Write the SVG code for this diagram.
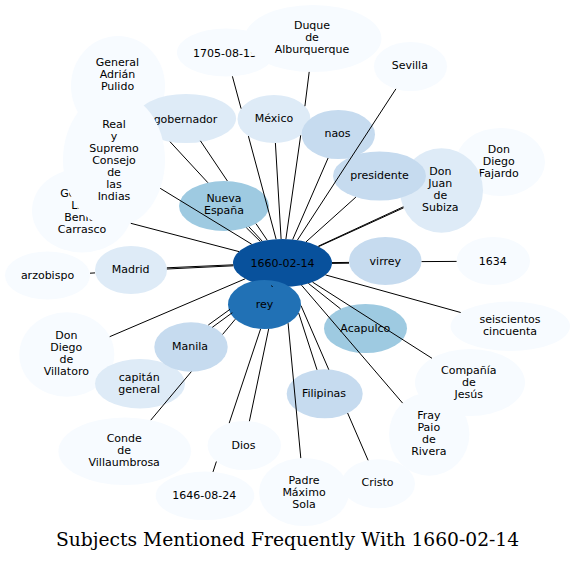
<svg xmlns="http://www.w3.org/2000/svg" width="575" height="562" viewBox="0 0 575 562">
<style>
  .c1{fill:#f7fbff}
  .c2{fill:#deebf7}
  .c3{fill:#c6dbef}
  .c4{fill:#9ecae1}
  .c7{fill:#2171b5}
  .c8{fill:#08519c}
  .node text{font-family:"DejaVu Sans","Noto Sans",sans-serif;font-size:11px;text-anchor:middle;fill:#000}
  #connectors path{stroke:#000;stroke-width:1;fill:none}
  .title{font-family:"DejaVu Serif","Liberation Serif",serif;font-size:18.7px;text-anchor:middle;fill:#000}
</style>
<rect width="575" height="562" fill="#fff"/>
<g id="nodes">
  <g id="n-pulido" class="node"><ellipse class="c1" cx="118" cy="86" rx="47" ry="50"/><text x="117.5" y="66"><tspan x="117.5">General</tspan><tspan x="117.5" dy="12">Adrián</tspan><tspan x="117.5" dy="12">Pulido</tspan></text></g>
  <g id="n-carrasco" class="node"><ellipse class="c1" cx="82" cy="210.5" rx="50" ry="42"/><text x="82" y="196.5"><tspan x="82">General</tspan><tspan x="82" dy="12">Luis</tspan><tspan x="82" dy="12">Benito</tspan><tspan x="82" dy="12">Carrasco</tspan></text></g>
  <g id="n-gobernador" class="node"><ellipse class="c2" cx="186" cy="118.5" rx="50" ry="24.5"/><text x="185.5" y="122.5">gobernador</text></g>
  <g id="n-consejo" class="node"><ellipse class="c1" cx="114" cy="160" rx="51" ry="67"/><text x="114" y="128"><tspan x="114">Real</tspan><tspan x="114" dy="12">y</tspan><tspan x="114" dy="12">Supremo</tspan><tspan x="114" dy="12">Consejo</tspan><tspan x="114" dy="12">de</tspan><tspan x="114" dy="12">las</tspan><tspan x="114" dy="12">Indias</tspan></text></g>
  <g id="n-arzobispo" class="node"><ellipse class="c1" cx="47.5" cy="275.5" rx="42.5" ry="24"/><text x="47.5" y="278.5">arzobispo</text></g>
  <g id="n-madrid" class="node"><ellipse class="c2" cx="131" cy="270" rx="36" ry="24"/><text x="130.7" y="272.7">Madrid</text></g>
  <g id="n-nueva-espana" class="node"><ellipse class="c4" cx="224" cy="206" rx="45" ry="25"/><text x="224" y="202.3"><tspan x="224">Nueva</tspan><tspan x="224" dy="12">España</tspan></text></g>
  <g id="n-1705" class="node"><ellipse class="c1" cx="226" cy="52.5" rx="49" ry="24"/><text x="225" y="56.5">1705-08-15</text></g>
  <g id="n-duque" class="node"><ellipse class="c1" cx="313" cy="38.5" rx="68.5" ry="33.5"/><text x="312" y="29"><tspan x="312">Duque</tspan><tspan x="312" dy="12">de</tspan><tspan x="312" dy="12">Alburquerque</tspan></text></g>
  <g id="n-sevilla" class="node"><ellipse class="c1" cx="410.5" cy="66.5" rx="36.5" ry="24.5"/><text x="409.8" y="69">Sevilla</text></g>
  <g id="n-mexico" class="node"><ellipse class="c2" cx="274" cy="119" rx="36.5" ry="24"/><text x="274" y="122.3">México</text></g>
  <g id="n-naos" class="node"><ellipse class="c3" cx="338.3" cy="134.5" rx="36.7" ry="24.5"/><text x="337.5" y="137.3">naos</text></g>
  <g id="n-fajardo" class="node"><ellipse class="c1" cx="500.5" cy="162" rx="44.5" ry="34"/><text x="498.8" y="152.5"><tspan x="498.8">Don</tspan><tspan x="498.8" dy="12">Diego</tspan><tspan x="498.8" dy="12">Fajardo</tspan></text></g>
  <g id="n-subiza" class="node"><ellipse class="c2" cx="441.5" cy="190.5" rx="41.5" ry="42.3"/><text x="440.3" y="175"><tspan x="440.3">Don</tspan><tspan x="440.3" dy="12">Juan</tspan><tspan x="440.3" dy="12">de</tspan><tspan x="440.3" dy="12">Subiza</tspan></text></g>
  <g id="n-presidente" class="node"><ellipse class="c3" cx="379.5" cy="176" rx="46.5" ry="24.5"/><text x="379.5" y="178.5">presidente</text></g>
  <g id="n-virrey" class="node"><ellipse class="c3" cx="385.3" cy="261" rx="36.3" ry="24"/><text x="385.3" y="265">virrey</text></g>
  <g id="n-1634" class="node"><ellipse class="c1" cx="493.3" cy="261" rx="36.7" ry="24"/><text x="492.7" y="265">1634</text></g>
  <g id="n-1660-02-14" class="node"><ellipse class="c8" cx="282.5" cy="263" rx="49.5" ry="24"/><text x="282.5" y="266.7">1660-02-14</text></g>
  <g id="n-rey" class="node"><ellipse class="c7" cx="264.5" cy="304.5" rx="36.5" ry="24.5"/><text x="264.5" y="307.5">rey</text></g>
  <g id="n-acapulco" class="node"><ellipse class="c4" cx="365.5" cy="328.5" rx="41.5" ry="24.5"/><text x="365.3" y="331.5">Acapulco</text></g>
  <g id="n-seiscientos" class="node"><ellipse class="c1" cx="510.3" cy="326.3" rx="59.7" ry="24.7"/><text x="510" y="323.3"><tspan x="510">seiscientos</tspan><tspan x="510" dy="12">cincuenta</tspan></text></g>
  <g id="n-compania" class="node"><ellipse class="c1" cx="470" cy="382.5" rx="55" ry="33.5"/><text x="468.8" y="373.5"><tspan x="468.8">Compañía</tspan><tspan x="468.8" dy="12">de</tspan><tspan x="468.8" dy="12">Jesús</tspan></text></g>
  <g id="n-fray" class="node"><ellipse class="c1" cx="429.2" cy="434.2" rx="40.2" ry="41.5"/><text x="428.8" y="418.5"><tspan x="428.8">Fray</tspan><tspan x="428.8" dy="12">Paio</tspan><tspan x="428.8" dy="12">de</tspan><tspan x="428.8" dy="12">Rivera</tspan></text></g>
  <g id="n-filipinas" class="node"><ellipse class="c3" cx="324.7" cy="393.8" rx="38" ry="24.5"/><text x="324" y="396.7">Filipinas</text></g>
  <g id="n-padre" class="node"><ellipse class="c1" cx="304" cy="492" rx="45" ry="34"/><text x="304" y="483.5"><tspan x="304">Padre</tspan><tspan x="304" dy="12">Máximo</tspan><tspan x="304" dy="12">Sola</tspan></text></g>
  <g id="n-cristo" class="node"><ellipse class="c1" cx="378.3" cy="483.8" rx="36.7" ry="24.5"/><text x="377.5" y="486.3">Cristo</text></g>
  <g id="n-dios" class="node"><ellipse class="c1" cx="244.3" cy="445.5" rx="36.7" ry="24.5"/><text x="243.5" y="448.5">Dios</text></g>
  <g id="n-1646" class="node"><ellipse class="c1" cx="205" cy="495.8" rx="49.3" ry="24.2"/><text x="204.3" y="498.5">1646-08-24</text></g>
  <g id="n-conde" class="node"><ellipse class="c1" cx="124.7" cy="451.2" rx="66.3" ry="33.8"/><text x="124.2" y="442.3"><tspan x="124.2">Conde</tspan><tspan x="124.2" dy="12">de</tspan><tspan x="124.2" dy="12">Villaumbrosa</tspan></text></g>
  <g id="n-villatoro" class="node"><ellipse class="c1" cx="66.8" cy="354.5" rx="47.5" ry="42.2"/><text x="66.3" y="339"><tspan x="66.3">Don</tspan><tspan x="66.3" dy="12">Diego</tspan><tspan x="66.3" dy="12">de</tspan><tspan x="66.3" dy="12">Villatoro</tspan></text></g>
  <g id="n-capitan" class="node"><ellipse class="c2" cx="140" cy="383.7" rx="45" ry="24.7"/><text x="139.2" y="380.5"><tspan x="139.2">capitán</tspan><tspan x="139.2" dy="12">general</tspan></text></g>
  <g id="n-manila" class="node"><ellipse class="c3" cx="191" cy="347" rx="36.7" ry="24.7"/><text x="190" y="350">Manila</text></g>
</g>
<g id="connectors">
  <path d="M170,141.7 L207.9,182.7 M248.9,226.8 L262.2,241.1"/>
  <path d="M200.4,140.8 L227.4,181 M256,223.7 L267.2,240.2"/>
  <path d="M160.2,188.3 L251.7,244.2"/>
  <path d="M246.3,227.7 L260.4,241.5"/>
  <path d="M232.4,76.3 L241.1,108.6 M248.4,136.1 L276.1,239.2"/>
  <path d="M275.4,143 L281.1,239"/>
  <path d="M309.2,71.9 L304.9,106.2 M300.7,135.3 L285.9,239.1"/>
  <path d="M328.1,158 L292.7,239.5"/>
  <path d="M395.9,88.9 L297.4,240.1"/>
  <path d="M355.9,197.1 L306,241.9"/>
  <path d="M318.6,246.6 L403.6,207.8"/>
  <path d="M318.3,246.2 L403.4,206.8"/>
  <path d="M332,262.6 L349,262.4"/>
  <path d="M332,263.4 L349,263.2 M421.6,261.6 L456.6,261.4"/>
  <path d="M325.4,274.9 L460.7,312.5"/>
  <path d="M308.4,283.4 L340.6,308.9"/>
  <path d="M312.5,282.1 L432,358.3"/>
  <path d="M301.5,285.2 L402.6,403.1"/>
  <path d="M298.7,313.1 L317,369.8"/>
  <path d="M301,305.6 L328.8,369.7 M347.6,413 L368.1,460.3"/>
  <path d="M288.1,323.1 L300.8,458.1"/>
  <path d="M260.6,328.9 L229.2,423.1 M216.4,461.5 L213,471.9"/>
  <path d="M268.7,328.8 L249.4,421.2"/>
  <path d="M235.3,319.2 L222.6,334.4 M191.3,371.7 L150.8,420.1"/>
  <path d="M232.3,312.7 L212.3,327.3"/>
  <path d="M230,309.3 L208.3,325"/>
  <path d="M109.7,336.7 L245.2,278.8"/>
  <path d="M130.8,223.3 L239,251.6"/>
  <path d="M233.2,264.8 L166.9,267.8"/>
  <path d="M233.3,265.8 L166.9,269 M95,272.9 L90,273.2"/>
  <path d="M271.5,285.5 L272.5,287"/>
</g>
<text class="title" x="287.5" y="546">Subjects Mentioned Frequently With 1660-02-14</text>
</svg>
